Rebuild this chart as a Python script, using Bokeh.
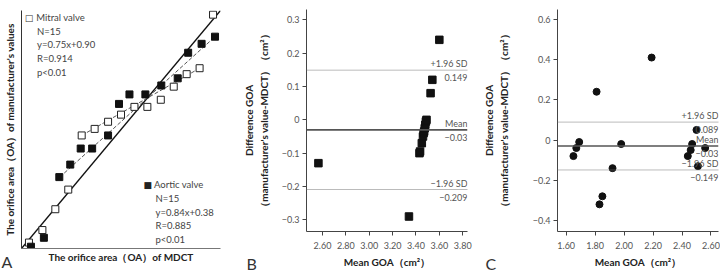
from math import pi

from bokeh.embed import file_html
from bokeh.layouts import column, row
from bokeh.models import FixedTicker, Label, Range1d, Span, Title
from bokeh.plotting import figure
from bokeh.resources import INLINE

FONT = "Lato"
H = 271

# ---------------- Panel A: manufacturer's OA vs MDCT OA ----------------
mitral_mdct = [0.15, 0.42, 0.68, 0.94, 1.21, 1.47, 1.74, 2.00, 2.27, 2.53, 2.80, 3.06, 3.32, 3.58, 3.85]
mitral_mfr = [0.10, 0.31, 0.66, 0.99, 1.90, 2.01, 2.13, 2.25, 2.38, 2.38, 2.50, 2.72, 2.93, 3.03, 3.93]
aortic_mdct = [0.19, 0.45, 0.76, 0.98, 1.19, 1.42, 1.74, 1.96, 2.17, 2.49, 2.81, 3.14, 3.35, 3.62, 3.89]
aortic_mfr = [0.03, 0.18, 1.20, 1.41, 1.68, 1.68, 1.90, 2.43, 2.59, 2.59, 2.74, 2.86, 3.29, 3.44, 3.56]

# dashed trend lines (start / end of each fitted segment)
mitral_trend_x = [1.21, 3.58]
mitral_trend_y = [1.90, 3.03]
aortic_trend_x = [0.77, 3.89]
aortic_trend_y = [1.20, 3.56]

oa_range = [0.0, 4.0]

mitral_title = "Mitral valve"
mitral_stats = ["N=15", "y=0.75x+0.90", "R=0.914", "p<0.01"]
aortic_title = "Aortic valve"
aortic_stats = ["N=15", "y=0.84x+0.38", "R=0.885", "p<0.01"]

# ---------------- Panel B: Bland-Altman (squares) ----------------
b_mean_goa = [2.565, 3.34, 3.60, 3.54, 3.525, 3.43, 3.435, 3.45, 3.46, 3.465, 3.47, 3.475, 3.48, 3.485, 3.49]
b_diff_goa = [-0.13, -0.29, 0.24, 0.12, 0.08, -0.10, -0.095, -0.07, -0.05, -0.04, -0.035, -0.025, -0.015, -0.005, 0.0]
b_bias = -0.03
b_upper = 0.149
b_lower = -0.209
b_x_range = [2.463, 3.841]
b_y_range = [-0.335, 0.331]
b_xticks = [2.6, 2.8, 3.0, 3.2, 3.4, 3.6, 3.8]
b_xtick_labels = ["2.60", "2.80", "3.00", "3.20", "3.40", "3.60", "3.80"]
b_yticks = [-0.3, -0.2, -0.1, 0, 0.1, 0.2, 0.3]
b_ytick_labels = ["\u22120.3", "\u22120.2", "\u22120.1", "0", "0.1", "0.2", "0.3"]

# ---------------- Panel C: Bland-Altman (circles) ----------------
c_mean_goa = [1.65, 1.67, 1.69, 1.81, 1.83, 1.85, 1.92, 1.98, 2.19, 2.44, 2.46, 2.47, 2.50, 2.51, 2.56]
c_diff_goa = [-0.08, -0.04, -0.01, 0.24, -0.32, -0.28, -0.14, -0.02, 0.41, -0.08, -0.05, -0.02, 0.05, -0.13, -0.04]
c_bias = -0.03
c_upper = 0.089
c_lower = -0.149
c_x_range = [1.540, 2.652]
c_y_range = [-0.455, 0.649]
c_xticks = [1.6, 1.8, 2.0, 2.2, 2.4, 2.6]
c_xtick_labels = ["1.60", "1.80", "2.00", "2.20", "2.40", "2.60"]
c_yticks = [-0.4, -0.2, 0, 0.2, 0.4, 0.6]
c_ytick_labels = ["\u22120.4", "\u22120.2", "0", "0.2", "0.4", "0.6"]

diff_title = "Difference GOA\n\uff08manufacturer's value-MDCT\uff09\uff08cm\u00b2\uff09"
mean_title = "Mean GOA\uff08cm\u00b2\uff09"
oa_x_title = "The orifice area\uff08OA\uff09of MDCT"
oa_y_title = "The orifice area\uff08OA\uff09of manufacturer's values"


def base_figure(x_range, y_range, left, right, top, bottom):
    p = figure(width=240, height=H, x_range=Range1d(*x_range), y_range=Range1d(*y_range),
               output_backend="svg", toolbar_location=None,
               min_border_left=left, min_border_right=right,
               min_border_top=top, min_border_bottom=bottom)
    p.outline_line_color = None
    p.grid.visible = False
    p.background_fill_color = "white"
    p.border_fill_color = "white"
    p._borders = (left, bottom)
    return p


def frame_text(p, cx, cy, text, size="9.5px", color="#444444", align="left", font=FONT):
    """Text inside the frame, placed by canvas position measured from the top-left."""
    left, bottom = p._borders
    p.add_layout(Label(x=cx - left, y=(H - bottom) - cy, x_units="screen", y_units="screen",
                       text=text, text_font=font, text_font_size=size, text_color=color,
                       text_align=align, text_baseline="middle"))


def panel_letter(p, letter, offset, standoff):
    p.add_layout(Title(text=letter, align="left", offset=offset, standoff=standoff,
                       vertical_align="top",
                       text_font=FONT, text_font_size="16px", text_font_style="normal",
                       text_color="#333333"), "below")


def axis_titles(p, xlabel, ylabel, x_standoff, y_standoff):
    p.xaxis.axis_label = xlabel
    p.yaxis.axis_label = ylabel
    p.xaxis.axis_label_standoff = x_standoff
    p.yaxis.axis_label_standoff = y_standoff
    for ax in (p.xaxis, p.yaxis):
        ax.axis_label_text_font = FONT
        ax.axis_label_text_font_style = "bold"
        ax.axis_label_text_color = "#222222"
        ax.axis_label_text_font_size = "10px"


def style_axes(p, xticks, xlabels, yticks, ylabels):
    p.xaxis.ticker = FixedTicker(ticks=xticks)
    p.yaxis.ticker = FixedTicker(ticks=yticks)
    p.xaxis.major_label_overrides = dict(zip(xticks, xlabels))
    p.yaxis.major_label_overrides = dict(zip(yticks, ylabels))
    for ax in (p.xaxis, p.yaxis):
        ax.axis_line_color = "#444444"
        ax.axis_line_width = 1
        ax.major_tick_line_color = "#444444"
        ax.major_tick_in = 0
        ax.major_tick_out = 4
        ax.minor_tick_line_color = None
        ax.major_label_text_font = FONT
        ax.major_label_text_font_size = "9px"
        ax.major_label_text_color = "#555555"
    p.xaxis.major_label_standoff = 6
    p.yaxis.major_label_standoff = 3


def limit_lines(p, x_end, bias, upper, lower):
    p.add_layout(Span(location=bias, dimension="width", line_color="#555555", line_width=1.6))
    for v in (upper, lower):
        p.add_layout(Span(location=v, dimension="width", line_color="#777777",
                          line_width=1, line_dash="1 1"))

    def fmt(v):
        s = f"{abs(v):.3f}".rstrip("0")
        return ("\u2212" if v < 0 else "") + s

    rows = [(upper, "+1.96 SD"), (bias, "Mean"), (lower, "\u22121.96 SD")]
    for v, name in rows:
        p.add_layout(Label(x=x_end, y=v, text=name, text_font=FONT, text_font_size="9px",
                           text_color="#555555", text_align="right", text_baseline="bottom",
                           y_offset=1))
        p.add_layout(Label(x=x_end, y=v, text=fmt(v), text_font=FONT, text_font_size="9px",
                           text_color="#555555", text_align="right", text_baseline="top",
                           y_offset=-4))


# ---------------- build panel A ----------------
pa = base_figure(oa_range, oa_range, 21, 20, 10, 23)
for ax in (pa.xaxis, pa.yaxis):
    ax.ticker = FixedTicker(ticks=[])
    ax.major_label_text_font_size = "0px"
    ax.major_label_standoff = 0
    ax.major_tick_line_color = None
    ax.major_tick_out = 0
    ax.minor_tick_line_color = None
    ax.axis_line_width = 1
pa.yaxis.axis_line_color = "#333333"
pa.xaxis.axis_line_color = "#777777"
axis_titles(pa, oa_x_title, oa_y_title, 2, 6)

pa.line(oa_range, oa_range, line_color="#111111", line_width=1.3)
pa.line(mitral_trend_x, mitral_trend_y, line_color="#555555", line_width=1, line_dash="4 2")
pa.line(aortic_trend_x, aortic_trend_y, line_color="#555555", line_width=1, line_dash="4 2")
pa.scatter(mitral_mdct, mitral_mfr, marker="square", size=7, fill_color="white",
           line_color="#222222", line_width=1)
pa.scatter(aortic_mdct, aortic_mfr, marker="square", size=7, fill_color="#111111",
           line_color="#111111")

frame_text(pa, 28.5, 17, "\u25a1", size="9px", color="#333333", align="center", font="DejaVu Sans")
frame_text(pa, 35.7, 17, mitral_title)
for i, t in enumerate(mitral_stats):
    frame_text(pa, 36.5, 30.8 + 13.6 * i, t)
frame_text(pa, 147.3, 184.3, "\u25a0", size="9px", color="#222222", align="center", font="DejaVu Sans")
frame_text(pa, 153.5, 184.3, aortic_title)
for i, t in enumerate(aortic_stats):
    frame_text(pa, 155, 198 + 13.6 * i, t)
panel_letter(pa, "A", -20, -28)

# ---------------- build panel B ----------------
pb = base_figure(b_x_range, b_y_range, 59, 13, 9, 40)
style_axes(pb, b_xticks, b_xtick_labels, b_yticks, b_ytick_labels)
axis_titles(pb, mean_title, diff_title, 4, 9)
limit_lines(pb, b_x_range[1], b_bias, b_upper, b_lower)
pb.scatter(b_mean_goa, b_diff_goa, marker="square", size=7.5, fill_color="#111111",
           line_color="#111111")
panel_letter(pb, "B", -60, -34)

# ---------------- build panel C ----------------
pc = base_figure(c_x_range, c_y_range, 68, 2, 9, 40)
style_axes(pc, c_xticks, c_xtick_labels, c_yticks, c_ytick_labels)
axis_titles(pc, mean_title, diff_title, 4, 20)
limit_lines(pc, c_x_range[1], c_bias, c_upper, c_lower)
pc.scatter(c_mean_goa, c_diff_goa, marker="circle", size=7, fill_color="#111111",
           line_color="#111111")
panel_letter(pc, "C", -72, -34)

layout = row(column(pa), column(pb), column(pc))
open("out.html", "w").write(file_html(layout, INLINE))
